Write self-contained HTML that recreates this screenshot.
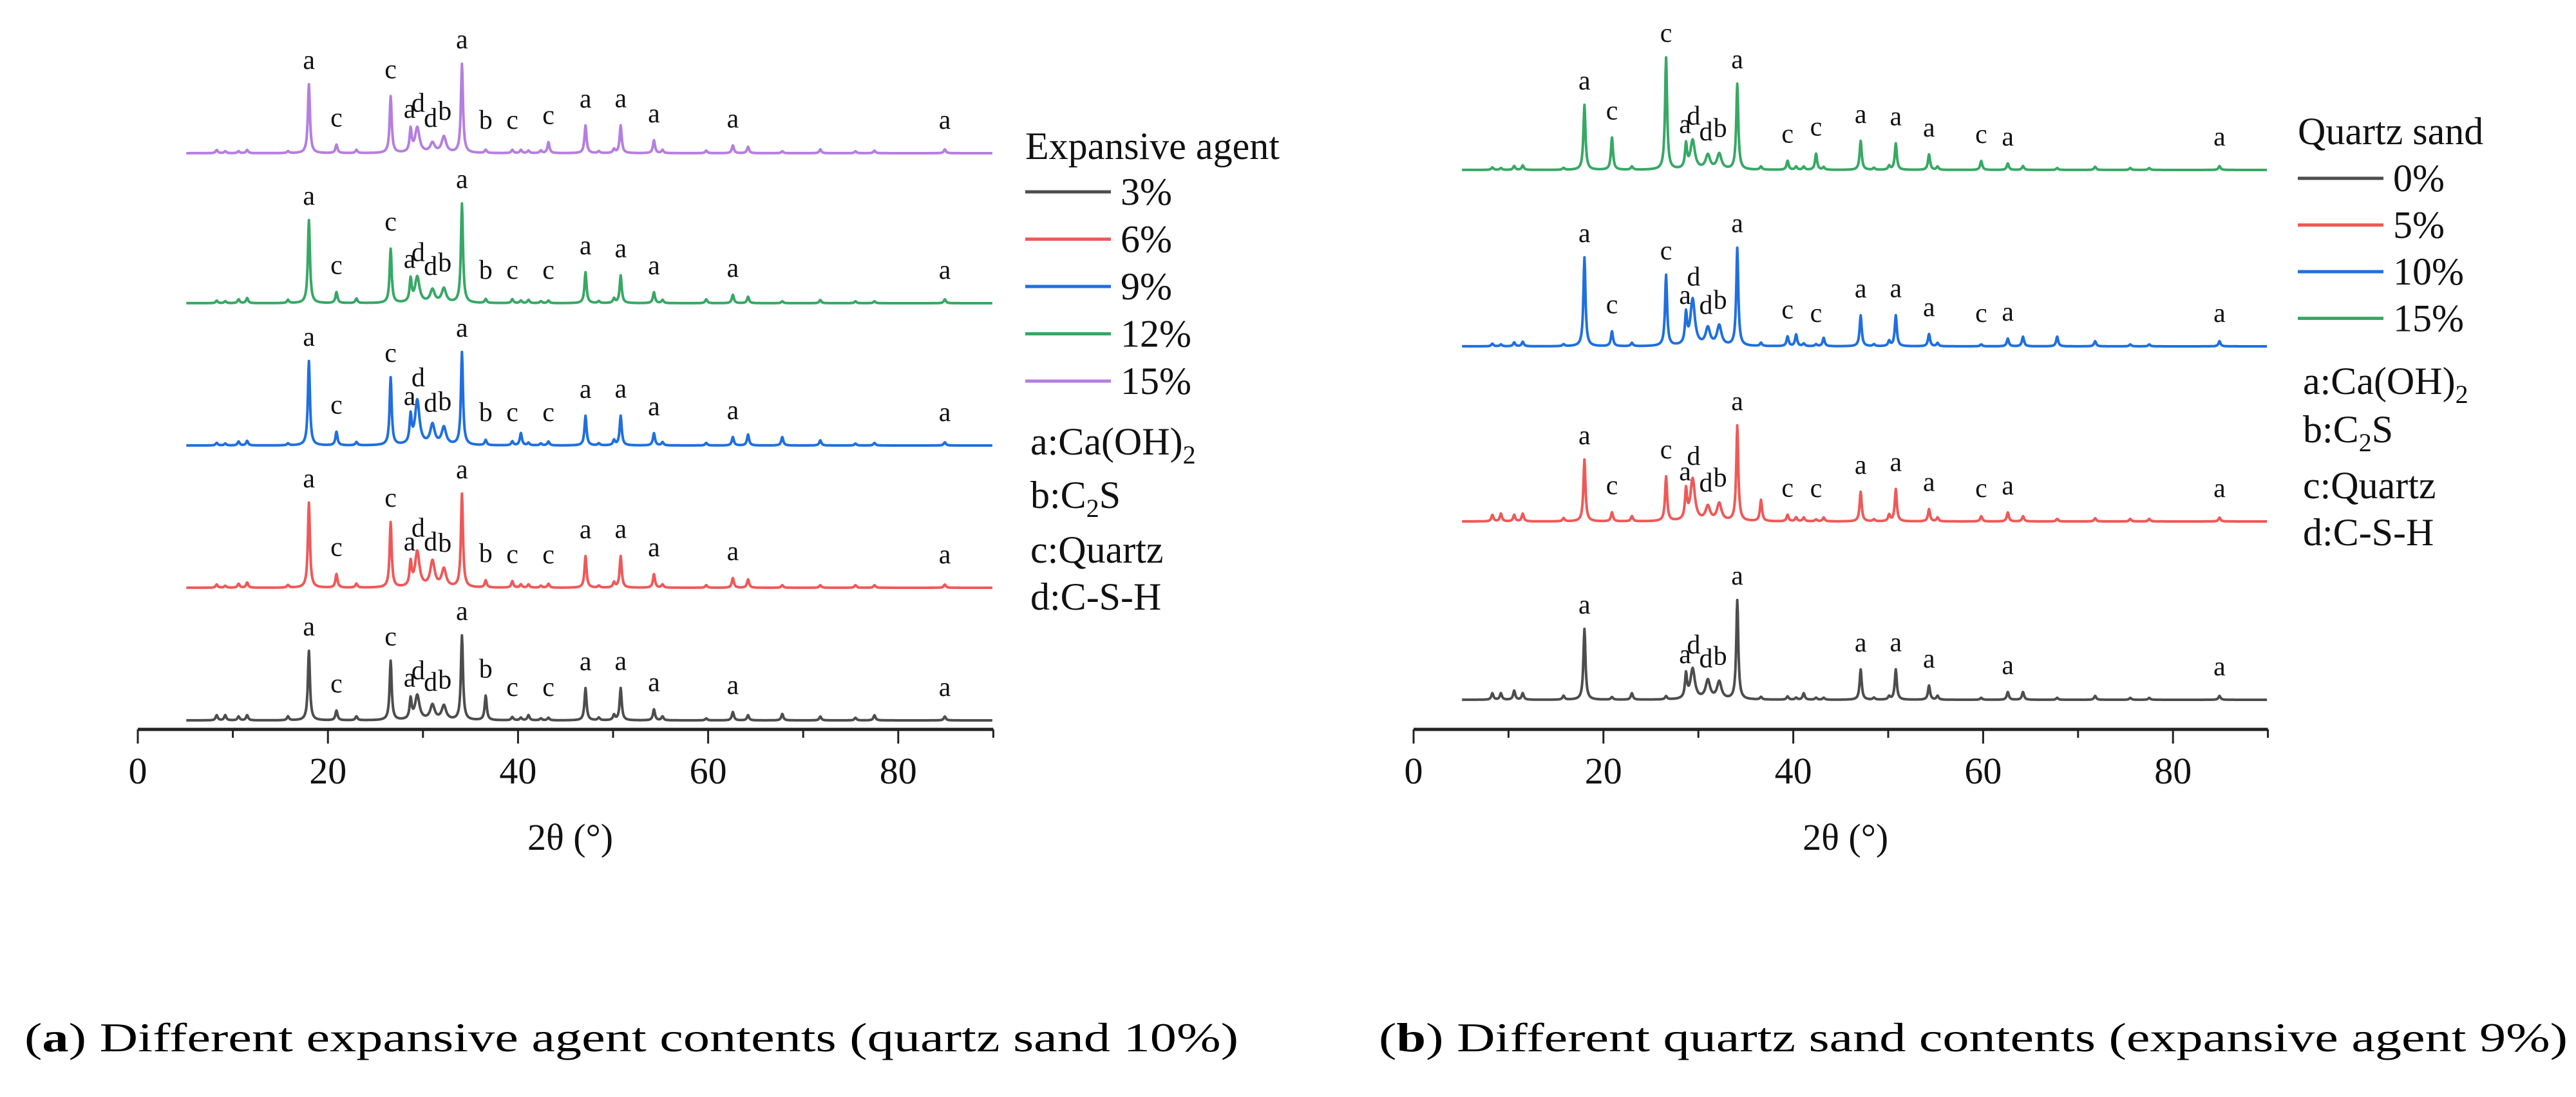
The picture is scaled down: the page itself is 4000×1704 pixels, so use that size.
<!DOCTYPE html>
<html><head><meta charset="utf-8">
<style>
html,body{margin:0;padding:0;background:#fff;}
svg{display:block;font-family:"Liberation Serif",serif;}
</style></head>
<body>
<svg id="fig" width="4000" height="1704" viewBox="0 0 4000 1704" xmlns="http://www.w3.org/2000/svg">
<g id="panelA"></g>
<g id="panelB"></g>
<text x="38" y="1633" font-size="64" textLength="1885" lengthAdjust="spacingAndGlyphs">(<tspan font-weight="bold">a</tspan>) Different expansive agent contents (quartz sand 10%)</text>
<text x="2141" y="1633" font-size="64" textLength="1846" lengthAdjust="spacingAndGlyphs">(<tspan font-weight="bold">b</tspan>) Different quartz sand contents (expansive agent 9%)</text>
</svg>
<script>
// ---- data ----
const peakPos = [8.3,9.2,10.6,11.5,15.8,18.0,20.9,23.0,26.6,28.7,29.4,31.0,32.2,34.1,36.6,39.4,40.3,41.1,42.4,43.2,47.1,48.5,50.1,50.8,54.3,55.2,59.8,62.6,64.2,67.8,71.8,75.5,77.5,84.9];
const seriesA_names = ["3%","6%","9%","12%","15%"];
const seriesA_3  = [8,8,6,8,6,108,15,6,92,31,38,23,22,131,38,5,4,8,3,4,50,4,8,50,17,6,3,13,8,10,6,4,8,6];
const seriesA_6  = [5,3,6,8,4,132,21,6,101,36,55,40,28,145,11,10,5,5,3,6,49,3,8,49,21,5,4,15,13,4,4,4,4,5];
const seriesA_9  = [4,3,6,7,3,131,21,5,105,42,69,31,27,144,8,6,19,4,3,6,46,3,8,46,19,5,4,13,17,13,8,3,4,5];
const seriesA_12 = [4,3,6,8,5,129,17,7,84,35,40,20,22,154,6,6,4,5,3,4,48,3,7,43,17,5,6,13,10,3,5,3,3,6];
const seriesA_15 = [5,3,3,5,3,107,13,5,88,35,39,15,25,138,5,5,5,4,4,17,43,3,6,43,20,5,4,12,10,3,6,3,4,6];
const seriesB_names = ["0%","5%","10%","15%"];
const seriesB_0  = [10,10,14,10,6,110,4,10,5,37,47,29,27,154,4,5,3,10,3,3,47,3,5,47,22,6,3,12,12,3,6,3,3,6];
const seriesB_5  = [10,12,10,12,5,96,14,8,69,45,65,22,27,148,33,10,6,6,3,6,46,3,10,50,19,6,8,14,8,4,5,4,4,6];
const seriesB_10 = [4,3,6,7,3,138,23,5,110,46,72,27,31,152,5,15,18,4,3,13,48,3,8,48,19,5,3,12,15,15,8,3,3,8];
const seriesB_15 = [4,3,6,7,3,101,50,5,174,37,45,22,24,133,5,14,5,5,25,4,45,3,6,41,24,5,14,10,6,3,5,3,3,6];
const labelsA_letters = ["a","c","c","a","d","d","b","a","b","c","c","a","a","a","a","a"];
const labelsA_pos     = [18.0,20.9,26.6,28.6,29.5,30.8,32.3,34.1,36.6,39.4,43.2,47.1,50.8,54.3,62.6,84.9];
const labelsB_letters = ["a","c","c","a","d","d","b","a","c","c","a","a","a","c","a","a"];
const labelsB_pos     = [18.0,20.9,26.6,28.6,29.5,30.8,32.3,34.1,39.4,42.4,47.1,50.8,54.3,59.8,62.6,84.9];
const xTicks = [0,20,40,60,80];
const xMinor = [10,30,50,70,90];
const phaseKey = ["a:Ca(OH)","b:C","c:Quartz","d:C-S-H"];

const NS="http://www.w3.org/2000/svg";
function mk(tag,attrs,parent){const e=document.createElementNS(NS,tag);for(const k in attrs)e.setAttribute(k,attrs[k]);parent.appendChild(e);return e;}
function heightAt(h,x){let s=0;for(let i=0;i<peakPos.length;i++){const g=(peakPos[i]>29&&peakPos[i]<33)?0.28:0.13;const d=x-peakPos[i];s+=h[i]*g*g/(d*d+g*g);}return s;}

function panel(root,cfg){
  const xs=v=>cfg.x0+v*cfg.k;
  const ax=mk('line',{x1:xs(0),x2:xs(90),y1:cfg.axisY,y2:cfg.axisY,stroke:'#222','stroke-width':5},root);
  
  xTicks.forEach(t=>{
    const l=mk('line',{x1:xs(t),x2:xs(t),y1:cfg.axisY,y2:cfg.axisY+22,stroke:'#222','stroke-width':3},root);
    
    const tx=mk('text',{x:xs(t),y:cfg.axisY+84,'font-size':58,'text-anchor':'middle',fill:'#111'},root);
    
    tx.textContent=t;
  });
  xMinor.forEach(t=>{
    const l=mk('line',{x1:xs(t),x2:xs(t),y1:cfg.axisY,y2:cfg.axisY+13,stroke:'#222','stroke-width':3},root);
    
  });
  const at=mk('text',{x:xs(45.5),y:cfg.axisY+187,'font-size':58,'text-anchor':'middle',fill:'#111'},root);
  
  at.textContent='2θ (°)';
  cfg.series.forEach((s,si)=>{
    let d='';
    for(let x=5.1;x<=89.9;x+=0.05){const y=s.base-heightAt(s.h,x);d+=(d?'L':'M')+xs(x).toFixed(1)+' '+y.toFixed(1);}
    const p=mk('path',{d:d,fill:'none',stroke:s.color,'stroke-width':4,'stroke-linejoin':'round'},root);
    
    s.labels.forEach(i=>{
      const pos=cfg.lp[i];
      const top=Math.max(heightAt(s.h,pos),10);
      const gap=top>90?30:34;
      const t=mk('text',{x:xs(pos),y:s.base-top-gap+6,'font-size':42,'text-anchor':'middle',fill:'#111'},root);
      
      t.textContent=cfg.ll[i];
    });
    const ly=cfg.legY0+si*cfg.legDy;
    const ll=mk('line',{x1:cfg.legX,x2:cfg.legX+133,y1:ly,y2:ly,stroke:s.color,'stroke-width':5},root);
    
    const lt=mk('text',{x:cfg.legX+148,y:ly+20,'font-size':60,fill:'#111'},root);
    
    lt.textContent=s.name;
  });
  const title=mk('text',{x:cfg.legX,y:cfg.legTitleY,'font-size':60,fill:'#111'},root);
  
  title.textContent=cfg.legTitle;
  phaseKey.forEach((k,i)=>{
    const t=mk('text',{x:cfg.legX+8,y:cfg.keyY[i]+20,'font-size':60,fill:'#111'},root);
    
    if(i===0){t.textContent=k;const sub=mk('tspan',{dy:14,'font-size':40},t);sub.textContent='2';}
    else if(i===1){t.textContent=k;const sub=mk('tspan',{dy:14,'font-size':40},t);sub.textContent='2';const r=mk('tspan',{dy:-14},t);r.textContent='S';}
    else t.textContent=k;
  });
}
const allA=[...Array(16).keys()];
panel(document.getElementById('panelA'),{
  x0:214,k:14.76,axisY:1133,lp:labelsA_pos,ll:labelsA_letters,
  legX:1592,legTitleY:247,legY0:298,legDy:73.5,legTitle:'Expansive agent',
  keyY:[686,769,854,927],
  series:[
    {name:seriesA_names[0],h:seriesA_3,base:1119,color:'#4d4d4d',labels:allA},
    {name:seriesA_names[1],h:seriesA_6,base:913,color:'#f05858',labels:allA},
    {name:seriesA_names[2],h:seriesA_9,base:692,color:'#1f6fe0',labels:allA},
    {name:seriesA_names[3],h:seriesA_12,base:471,color:'#37a865',labels:allA},
    {name:seriesA_names[4],h:seriesA_15,base:238,color:'#b57ee0',labels:allA}
  ]});
const allB=[...Array(16).keys()];
const noC=[0,3,4,5,6,7,10,11,12,14,15];
panel(document.getElementById('panelB'),{
  x0:2195,k:14.74,axisY:1133,lp:labelsB_pos,ll:labelsB_letters,
  legX:3568,legTitleY:224,legY0:277,legDy:72.5,legTitle:'Quartz sand',
  keyY:[592,667,754,827],
  series:[
    {name:seriesB_names[0],h:seriesB_0,base:1087,color:'#4d4d4d',labels:noC},
    {name:seriesB_names[1],h:seriesB_5,base:810,color:'#f05858',labels:allB},
    {name:seriesB_names[2],h:seriesB_10,base:538,color:'#1f6fe0',labels:allB},
    {name:seriesB_names[3],h:seriesB_15,base:264,color:'#37a865',labels:allB}
  ]});
</script>
</body></html>
